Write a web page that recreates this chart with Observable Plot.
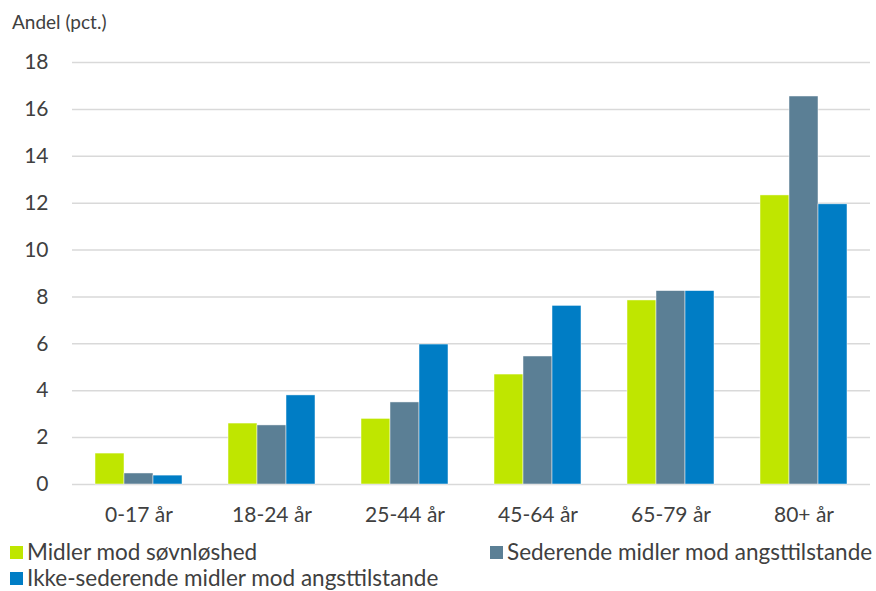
<!DOCTYPE html>
<html>
<head>
<meta charset="utf-8">
<script src="https://cdn.jsdelivr.net/npm/d3@7"></script>
<script src="https://cdn.jsdelivr.net/npm/@observablehq/plot@0.6"></script>
<style>
  body { margin: 0; background: #fff; font-family: Lato, "Open Sans", sans-serif; }
  #wrap { position: relative; width: 876px; height: 591px; }
  #wrap svg { position: absolute; left: 0; top: 0; }
  .title { position: absolute; left: 12px; top: 10px; font-size: 19px; color: #404040; white-space: nowrap; }
  .legend { position: absolute; font-size: 22.5px; line-height: 26px; color: #404040; display: flex; align-items: center; white-space: nowrap; }
  .legend span.sw { display: inline-block; width: 13px; height: 13px; margin-right: 4px; }
</style>
</head>
<body>
<div id="wrap"></div>
<script>
const categories = ["0-17 år", "18-24 år", "25-44 år", "45-64 år", "65-79 år", "80+ år"];
const seriesNames = ["Midler mod søvnløshed", "Sederende midler mod angsttilstande", "Ikke-sederende midler mod angsttilstande"];
const colors = ["#BFE600", "#5B7F95", "#007DC5"];
const sovnloshed = [1.32, 2.6, 2.8, 4.69, 7.85, 12.33];
const sederende = [0.47, 2.52, 3.5, 5.46, 8.25, 16.55];
const ikkeSederende = [0.38, 3.8, 5.97, 7.62, 8.25, 11.95];
const yTicks = [0, 2, 4, 6, 8, 10, 12, 14, 16, 18];
const axisTitle = "Andel (pct.)";

const allSeries = [sovnloshed, sederende, ikkeSederende];
const data = [];
categories.forEach((c, i) => allSeries.forEach((s, j) => data.push({cat: c, series: seriesNames[j], value: s[i]})));

const wrap = document.getElementById("wrap");
const chart = Plot.plot({
  width: 876,
  height: 530,
  marginTop: 62,
  marginBottom: 46,
  marginLeft: 71,
  marginRight: 6,
  style: {fontFamily: "Lato, 'Open Sans', sans-serif", fontSize: "21px", color: "#404040", background: "transparent"},
  fx: {domain: categories, paddingInner: 0, paddingOuter: 0, label: null, axis: null},
  x: {domain: seriesNames, paddingInner: 0, paddingOuter: 0.74, axis: null},
  y: {domain: [0, 18], ticks: yTicks, label: null},
  color: {domain: seriesNames, range: colors},
  marks: [
    Plot.gridY(yTicks, {stroke: "#D9D9D9", strokeOpacity: 1, strokeWidth: 1.5}),
    Plot.axisY(yTicks, {tickSize: 0, tickPadding: 24, fontSize: 21, fill: "#404040", label: null}),
    Plot.barY(data, {
      fx: "cat",
      x: "series",
      y: "value",
      fill: "series",
      stroke: "#ffffff",
      strokeWidth: 0.6,
      strokeOpacity: 0.8
    }),
    Plot.axisFx({anchor: "bottom", tickSize: 0, tickPadding: 23, fontSize: 21, fill: "#404040", label: null})
  ]
});
wrap.appendChild(chart);

const t = document.createElement("div");
t.className = "title";
t.textContent = axisTitle;
wrap.appendChild(t);

const legendPos = [[10, 539], [490, 539], [10, 565]];
seriesNames.forEach((n, i) => {
  const d = document.createElement("div");
  d.className = "legend";
  d.style.left = legendPos[i][0] + "px";
  d.style.top = legendPos[i][1] + "px";
  d.innerHTML = `<span class="sw" style="background:${colors[i]}"></span>${n}`;
  wrap.appendChild(d);
});
</script>
</body>
</html>
